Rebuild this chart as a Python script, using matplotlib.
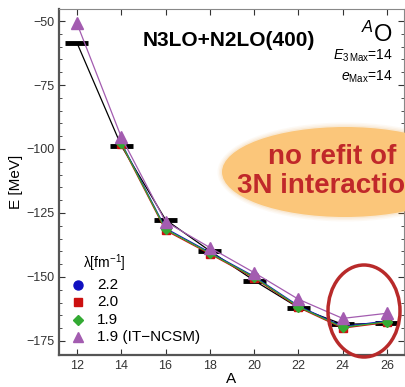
import numpy as np
import matplotlib.pyplot as plt
from matplotlib.patches import Ellipse
from matplotlib.ticker import MultipleLocator

plt.rcParams['font.family'] = ['Liberation Sans', 'DejaVu Sans']
plt.rcParams['mathtext.fontset'] = 'custom'
plt.rcParams['mathtext.rm'] = 'Liberation Sans'
plt.rcParams['mathtext.it'] = 'Liberation Sans:italic'

# oxygen isotopes
A = [12, 14, 16, 18, 20, 22, 24, 26]
A_calc = [14, 16, 18, 20, 22, 24, 26]
E_exp = [-58.5, -98.7, -127.6, -139.8, -151.4, -162.0, -168.5, -168.1]
E_22 = [-97.5, -131.0, -140.4, -149.8, -161.3, -169.4, -167.2]
E_20 = [-98.1, -131.8, -141.0, -150.4, -161.9, -170.0, -167.8]
E_19 = [-97.8, -131.4, -140.7, -150.1, -161.6, -169.7, -167.5]
E_ncsm = [-50.9, -95.3, -128.4, -138.5, -148.3, -158.7, -166.2, -164.2]

W, H = 405, 387
dpi = 100
fig = plt.figure(figsize=(W / dpi, H / dpi), dpi=dpi)
ax = fig.add_axes([59 / W, 1 - 355 / H, 345 / W, 346 / H])

ax.plot(A, E_exp, color='black', lw=0.9, zorder=2)
ax.hlines(E_exp, np.array(A) - 0.52, np.array(A) + 0.52, color='black', lw=3.5, zorder=3)
ax.plot(A_calc, E_22, color='#1010c0', lw=0.9, marker='o', ms=6, zorder=4)
ax.plot(A_calc, E_20, color='#cc1010', lw=0.9, marker='s', ms=5.5, zorder=5)
ax.plot(A_calc, E_19, color='#33aa33', lw=0.9, marker='D', ms=5.5, zorder=6)
ax.plot(A, E_ncsm, color='#a35cb0', lw=0.9, marker='^', ms=8.5, zorder=7)

ax.set_xlim(11.19, 26.77)
ax.set_ylim(-180.5, -45.3)
ax.set_xticks(range(12, 27, 2))
ax.set_yticks([-50, -75, -100, -125, -150, -175])
ax.set_yticklabels(['\u221250', '\u221275', '\u2212100', '\u2212125', '\u2212150', '\u2212175'])
ax.yaxis.set_minor_locator(MultipleLocator(5))
ax.tick_params(which='both', direction='in', top=True, right=True, labelsize=9, colors='#333333')
ax.tick_params(which='major', length=4)
ax.tick_params(which='minor', length=2.5)
for s in ['left', 'bottom']:
    ax.spines[s].set_color('#555555')
    ax.spines[s].set_linewidth(1.6)
for s in ['top', 'right']:
    ax.spines[s].set_color('#888888')
    ax.spines[s].set_linewidth(0.8)
ax.set_xlabel('A', fontsize=11, labelpad=0)
ax.set_ylabel('E [MeV]', fontsize=11, labelpad=2)

# legend drawn by hand
leg_x = 78 / W
fig.text(83 / W, 1 - 263 / H, '\u03bb[fm$^{-1}$]', fontsize=10, va='center')
legend_rows = [('o', '#1010c0', 6.5, '2.2'), ('s', '#cc1010', 5.5, '2.0'),
               ('D', '#33aa33', 5.5, '1.9'), ('^', '#a35cb0', 7.5, '1.9 (IT\u2212NCSM)')]
for i, (m, c, s, lab) in enumerate(legend_rows):
    yy = 1 - (285 + 17.3 * i) / H
    fig.lines.append(plt.Line2D([leg_x], [yy], marker=m, color=c, ms=s, transform=fig.transFigure))
    fig.text(97 / W, yy, lab, fontsize=11, va='center')

fig.text(143 / W, 1 - 46 / H, 'N3LO+N2LO(400)', fontsize=15, fontweight='bold')
fig.text(393 / W, 1 - 42 / H, r'$^{A}$O', fontsize=17, ha='right')
fig.text(393 / W, 1 - 60 / H, r'$E_{3\,\mathrm{Max}}$=14', fontsize=10, ha='right')
fig.text(393 / W, 1 - 81 / H, r'$e_{\mathrm{Max}}$=14', fontsize=10, ha='right')

# orange bubble with soft rim
cx, cy = 345 / W, 1 - 172 / H
for k, a in enumerate([0.06, 0.08, 0.12]):
    grow = (3 - k) * 3
    fig.add_artist(Ellipse((cx, cy), (246 + grow) / W, (90 + grow) / H,
                           transform=fig.transFigure, color='#e8a850', alpha=a, lw=0))
fig.add_artist(Ellipse((cx, cy), 246 / W, 90 / H, transform=fig.transFigure,
                       color='#fbc67a', lw=0))
fig.text(268 / W, 1 - 164 / H, 'no refit of', fontsize=20, fontweight='bold', color='#c0282a')
fig.text(237 / W, 1 - 193 / H, '3N interaction', fontsize=20, fontweight='bold', color='#c0282a')

# red ring round the last two isotopes
fig.add_artist(Ellipse((364 / W, 1 - 311 / H), 72 / W, 92 / H, transform=fig.transFigure,
                       fill=False, ec='#b82a2a', lw=2.5))

fig.savefig('out.png', dpi=dpi)
